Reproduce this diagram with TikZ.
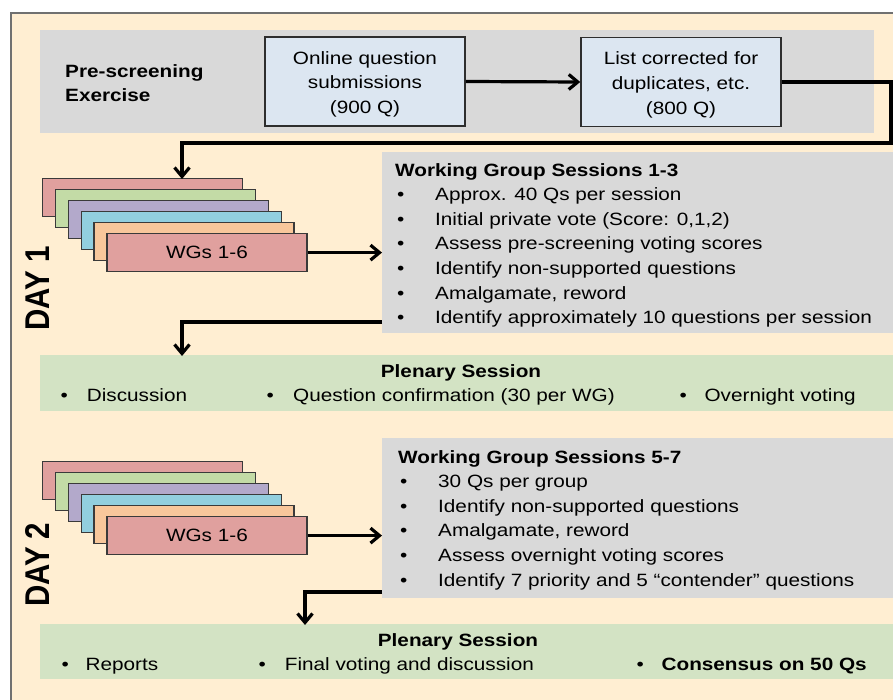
\documentclass[tikz,border=0pt]{standalone}
\usepackage{fontspec}
\usepackage{graphicx}
\setmainfont[FakeStretch=1.165]{Liberation Sans}
\newfontfamily\dayfont{Liberation Sans}
\usetikzlibrary{arrows.meta}

\definecolor{cream}{HTML}{FFEED2}
\definecolor{framegray}{HTML}{707070}
\definecolor{bggray}{HTML}{D9D9D9}
\definecolor{boxblue}{HTML}{DCE6F1}
\definecolor{boxline}{HTML}{2E2E2E}
\definecolor{plgreen}{HTML}{D3E3C4}
\definecolor{cardred}{HTML}{E0A09E}
\definecolor{cardgreen}{HTML}{C3DBA6}
\definecolor{cardpurple}{HTML}{B3A9CB}
\definecolor{cardcyan}{HTML}{92CFDF}
\definecolor{cardorange}{HTML}{F8C79B}
\definecolor{cardline}{HTML}{3A3A3A}

\newcommand\wgbul[1]{\hspace*{2pt}\makebox[#1][l]{\textbullet}}

\tikzset{
  txt/.style={font=\fontsize{17.8}{24.6}\selectfont},
  bluebox/.style={draw=boxline, line width=1.5pt, fill=boxblue, minimum width=200pt,
    minimum height=89pt, align=center, inner sep=0pt, txt},
  cardbox/.style={draw=cardline, line width=1.2pt, minimum width=200pt, minimum height=38pt,
    inner sep=0pt, anchor=north west, txt},
  graypanel/.style={fill=bggray, inner sep=0pt, anchor=north west},
  greenpanel/.style={fill=plgreen, inner sep=0pt, anchor=north west},
  listtxt/.style={txt, anchor=north west, align=left, inner sep=0pt},
  itemtxt/.style={txt, anchor=base west, inner sep=0pt},
  daylabel/.style={rotate=90, inner sep=0pt, font=\dayfont\bfseries\fontsize{29.5}{30}\selectfont},
  conn/.style={line width=3.2pt, -{Straight Barb[length=9pt,width=15pt]}},
}

\begin{document}
\begin{tikzpicture}[x=1pt,y=-1pt]
\useasboundingbox (0,0) rectangle (893,700);
\clip (0,0) rectangle (893,700);
\fill[white] (0,0) rectangle (893,700);
\draw[draw=framegray, line width=2pt, fill=cream] (11,13) rectangle (910,720);

% Pre-screening
\node[graypanel, minimum width=834pt, minimum height=103pt] (pre) at (40,30) {};
\node[txt, anchor=west, align=left, inner sep=0pt] (prelabel) at (65,83) {\bfseries Pre-screening\\\bfseries Exercise};
\node[bluebox] (online) at (365,81.5) {\rule{0pt}{18.5pt}Online question\\submissions\\(900 Q)};
\node[bluebox] (list) at (681,82) {\rule{0pt}{18.5pt}List corrected for\\duplicates, etc.\\(800 Q)};

% Day 1
\foreach \i/\c in {0/cardred,1/cardgreen,2/cardpurple,3/cardcyan,4/cardorange}
  \node[cardbox, fill=\c] (d1c\i) at (42+12.86*\i, 178+11*\i) {};
\node[cardbox, fill=cardred] (d1wg) at (106.3,233) {WGs 1-6};
\node[daylabel] (day1) at (38,288.5) {\scalebox{1}[1.165]{DAY 1}};

\node[graypanel, minimum width=530pt, minimum height=181pt] (wg1) at (382,152) {};
\node[listtxt] (wg1t) at (395,163) {%
\textbf{Working Group Sessions 1-3}\\
\wgbul{38pt}Approx. 40 Qs per session\\
\wgbul{38pt}Initial private vote (Score: 0,1,2)\\
\wgbul{38pt}Assess pre-screening voting scores\\
\wgbul{38pt}Identify non-supported questions\\
\wgbul{38pt}Amalgamate, reword\\
\wgbul{38pt}Identify approximately 10 questions per session};

\node[greenpanel, minimum width=860pt, minimum height=56pt] (pl1) at (40,355) {};
\node[txt, anchor=base, inner sep=0pt] (pl1t) at (461,377.5) {\bfseries Plenary Session};
\node[itemtxt] (pl1a) at (60.4,401.7) {\makebox[26.3pt][l]{\textbullet}Discussion};
\node[itemtxt] (pl1b) at (266.4,401.7) {\makebox[26.6pt][l]{\textbullet}Question confirmation (30 per WG)};
\node[itemtxt] (pl1c) at (679.4,401.7) {\makebox[25pt][l]{\textbullet}Overnight voting};

% Day 2
\foreach \i/\c in {0/cardred,1/cardgreen,2/cardpurple,3/cardcyan,4/cardorange}
  \node[cardbox, fill=\c] (d2c\i) at (42+12.86*\i, 461+11*\i) {};
\node[cardbox, fill=cardred] (d2wg) at (106.3,516) {WGs 1-6};
\node[daylabel] (day2) at (38,564.7) {\scalebox{1}[1.165]{DAY 2}};

\node[graypanel, minimum width=530pt, minimum height=160pt] (wg2) at (382,438) {};
\node[listtxt] (wg2t) at (398,450) {%
\textbf{Working Group Sessions 5-7}\\
\wgbul{38pt}30 Qs per group\\
\wgbul{38pt}Identify non-supported questions\\
\wgbul{38pt}Amalgamate, reword\\
\wgbul{38pt}Assess overnight voting scores\\
\wgbul{38pt}Identify 7 priority and 5 “contender” questions};

\node[greenpanel, minimum width=860pt, minimum height=55pt] (pl2) at (40,624) {};
\node[txt, anchor=base, inner sep=0pt] (pl2t) at (458,646) {\bfseries Plenary Session};
\node[itemtxt] (pl2a) at (61.4,670.5) {\makebox[24pt][l]{\textbullet}Reports};
\node[itemtxt] (pl2b) at (258.4,670.5) {\makebox[26.3pt][l]{\textbullet}Final voting and discussion};
\node[itemtxt] (pl2c) at (636.4,670.5) {\makebox[25pt][l]{\textbullet}\textbf{Consensus on 50 Qs}};

% Connectors
\coordinate (c1) at (891,143);
\draw[conn] (online.east) -- (list.west);
\draw[conn] (list.east) -| (c1) -| ([xshift=140pt,yshift=-1pt]d1c0.north west);
\draw[conn] (d1wg.east) -- (d1wg.east -| wg1.west);
\draw[conn] ([yshift=-170pt]wg1.north west) -| ([xshift=142pt,yshift=-1pt]pl1.north west);
\draw[conn] (d2wg.east) -- (d2wg.east -| wg2.west);
\draw[conn] ([yshift=-154pt]wg2.north west) -| ([xshift=265pt,yshift=-1pt]pl2.north west);
\end{tikzpicture}
\end{document}
